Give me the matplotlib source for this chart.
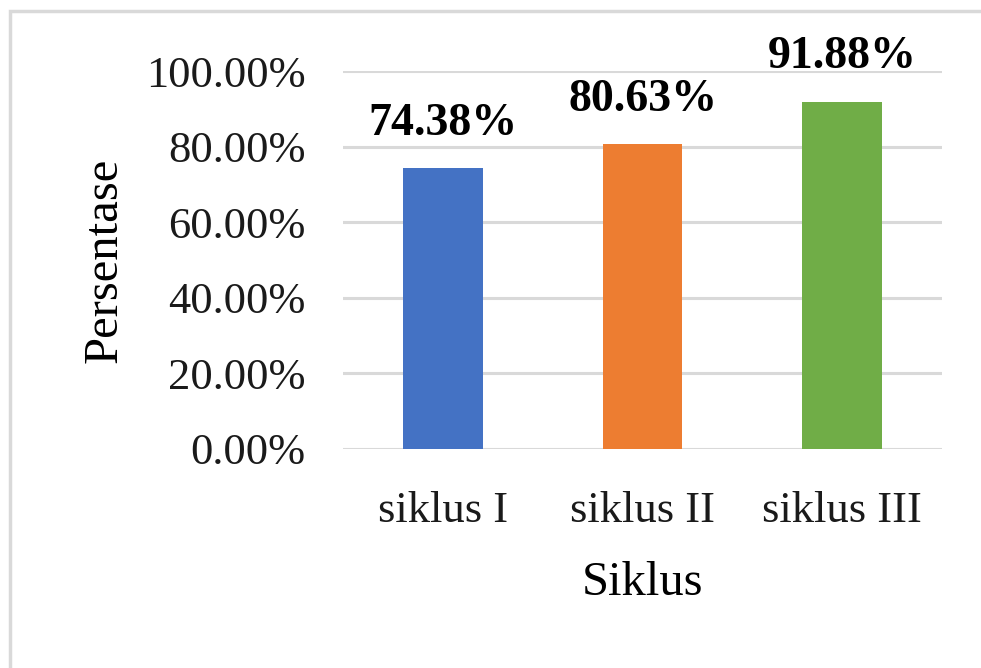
import matplotlib.pyplot as plt
from matplotlib.patches import Rectangle

categories = ['siklus I', 'siklus II', 'siklus III']
values = [0.7438, 0.8063, 0.9188]
labels = ['74.38%', '80.63%', '91.88%']
colors = ['#4472C4', '#ED7D31', '#70AD47']
yticks = [0.0, 0.2, 0.4, 0.6, 0.8, 1.0]

plt.rcParams['font.family'] = ['Liberation Serif', 'DejaVu Serif']

fig = plt.figure(figsize=(9.81, 6.68), dpi=100)
ax = fig.add_axes([343/981, 1 - 449/668, 599/981, 378/668])

x = range(len(categories))
bars = ax.bar(x, values, width=0.4, color=colors, zorder=3)

for i, v in enumerate(values):
    ax.annotate(labels[i], (i, v), xytext=(0, 24), textcoords='offset points',
                ha='center', va='baseline', fontsize=33, fontweight='bold',
                annotation_clip=False)

ax.set_xlim(-0.5, 2.5)
ax.set_ylim(0, 1.0)
ax.set_yticks(yticks)
ax.set_yticklabels(['%.2f%%' % (t * 100) for t in yticks])
ax.set_xticks(list(x))
ax.set_xticklabels(categories)
ax.tick_params(axis='both', length=0, labelsize=32, colors='#1a1a1a')
ax.tick_params(axis='y', pad=27)
ax.tick_params(axis='x', pad=30)
ax.yaxis.grid(True, color='#d9d9d9', linewidth=2.2, zorder=0)
for s in ax.spines.values():
    s.set_visible(False)

ax.set_xlabel('Siklus', fontsize=35, labelpad=22)
ax.set_ylabel('Persentase', fontsize=35, labelpad=14)

# outer chart border (cut off at right and bottom edges)
fig.patches.append(Rectangle((10/981, -0.1), 1.2, 1 - 11/668 + 0.1,
                             transform=fig.transFigure, fill=False,
                             edgecolor='#d9d9d9', linewidth=2.5))

fig.savefig('out.png', dpi=100)
